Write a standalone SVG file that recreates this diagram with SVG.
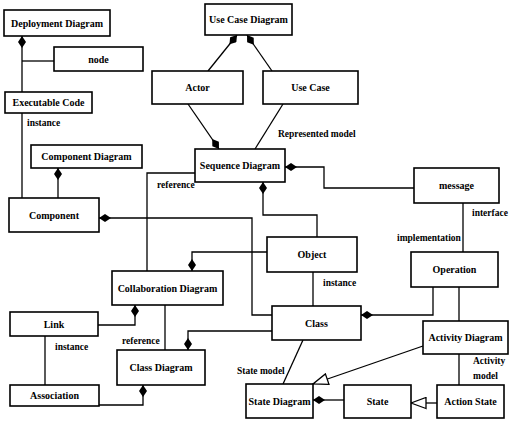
<svg xmlns="http://www.w3.org/2000/svg" width="509" height="421" viewBox="0 0 509 421">
<style>
.box{fill:#fff;stroke:#000;stroke-width:1.6}
.t{font-family:"Liberation Serif","Times New Roman",serif;font-weight:bold;font-size:10px;text-anchor:middle;fill:#000}
.l{font-family:"Liberation Serif","Times New Roman",serif;font-weight:bold;font-size:9.5px;fill:#000}
.c{fill:none;stroke:#000;stroke-width:1.3}
.d{marker-start:url(#dia)}
.g{marker-end:url(#tri)}
</style>
<defs>
<marker id="dia" viewBox="0 0 12 8" refX="0" refY="4" markerWidth="12" markerHeight="8" markerUnits="userSpaceOnUse" orient="auto">
<path d="M0,4 L6,0 L12,4 L6,8 Z" fill="#000"/>
</marker>
<marker id="tri" viewBox="0 0 17 13" refX="16" refY="6.5" markerWidth="17" markerHeight="13" markerUnits="userSpaceOnUse" orient="auto">
<path d="M1,1 L16,6.5 L1,12 Z" fill="#fff" stroke="#000" stroke-width="1.3"/>
</marker>
</defs>
<rect width="509" height="421" fill="#fff"/>
<g id="connectors">
<path class="c d" d="M22,36 V92"/>
<path class="c" d="M22,61 H54"/>
<path class="c" d="M22,113 V198"/>
<path class="c d" d="M58,168 V198"/>
<path class="c d" d="M99,218 H252 V315 H272"/>
<path class="c d" d="M237,35 L208,71"/>
<path class="c d" d="M247,35 L272,71"/>
<path class="c d" d="M219,149 L188,104"/>
<path class="c" d="M283,104 L255,149"/>
<path class="c d" d="M285,167 H324 V188 H414"/>
<path class="c d" d="M263,182 V215 H317 V237"/>
<path class="c" d="M147,271 V173 H195"/>
<path class="c d" d="M192,271 V252 H267"/>
<path class="c d" d="M135,305 V325 H98"/>
<path class="c" d="M165,305 V350"/>
<path class="c" d="M45,336 V385"/>
<path class="c d" d="M143,385 V405 H99"/>
<path class="c d" d="M188,350 V331 H272"/>
<path class="c" d="M313,272 V306"/>
<path class="c d" d="M361,315 H433 V287"/>
<path class="c" d="M463,203 V252"/>
<path class="c" d="M459,287 V321"/>
<path class="c" d="M303,340 L283,384"/>
<path class="c g" d="M423,346 L313,384"/>
<path class="c" d="M459,354 V385"/>
<path class="c g" d="M437,403 H411"/>
<path class="c d" d="M313,400 H344"/>
</g>
<g id="labels">
<text class="l" x="27" y="126">instance</text>
<text class="l" x="157" y="188">reference</text>
<text class="l" x="278" y="137">Represented model</text>
<text class="l" x="472" y="216">interface</text>
<text class="l" x="397" y="241">implementation</text>
<text class="l" x="323" y="286">instance</text>
<text class="l" x="122" y="344">reference</text>
<text class="l" x="55" y="350">instance</text>
<text class="l" x="237" y="374">State model</text>
<text class="l" x="473" y="364">Activity</text>
<text class="l" x="473" y="379">model</text>
</g>
<g id="deployment"><rect class="box" x="4" y="10" width="106" height="26"/><text class="t" x="57" y="26.5">Deployment Diagram</text></g>
<g id="node"><rect class="box" x="54" y="47" width="89" height="24"/><text class="t" x="98.5" y="62.5">node</text></g>
<g id="executable"><rect class="box" x="5" y="92" width="87" height="21"/><text class="t" x="48.5" y="106">Executable Code</text></g>
<g id="usecasediagram"><rect class="box" x="205" y="4" width="87" height="31"/><text class="t" x="248.5" y="23">Use Case Diagram</text></g>
<g id="actor"><rect class="box" x="152" y="71" width="91" height="33"/><text class="t" x="197.5" y="91">Actor</text></g>
<g id="usecase"><rect class="box" x="263" y="71" width="95" height="33"/><text class="t" x="310.5" y="91">Use Case</text></g>
<g id="sequence"><rect class="box" x="195" y="149" width="90" height="33"/><text class="t" x="240" y="169">Sequence Diagram</text></g>
<g id="message"><rect class="box" x="414" y="168" width="85" height="35"/><text class="t" x="456.5" y="189">message</text></g>
<g id="componentdiagram"><rect class="box" x="31" y="145" width="111" height="23"/><text class="t" x="86.5" y="160">Component Diagram</text></g>
<g id="component"><rect class="box" x="9" y="198" width="90" height="34"/><text class="t" x="54" y="218.5">Component</text></g>
<g id="object"><rect class="box" x="267" y="237" width="90" height="35"/><text class="t" x="312" y="258">Object</text></g>
<g id="operation"><rect class="box" x="411" y="252" width="87" height="35"/><text class="t" x="454.5" y="273">Operation</text></g>
<g id="collaboration"><rect class="box" x="112" y="271" width="111" height="34"/><text class="t" x="167.5" y="291.5">Collaboration Diagram</text></g>
<g id="class"><rect class="box" x="272" y="306" width="89" height="34"/><text class="t" x="316.5" y="326.5">Class</text></g>
<g id="link"><rect class="box" x="10" y="312" width="88" height="24"/><text class="t" x="54" y="327.5">Link</text></g>
<g id="classdiagram"><rect class="box" x="117" y="350" width="88" height="35"/><text class="t" x="161" y="371">Class Diagram</text></g>
<g id="activity"><rect class="box" x="423" y="321" width="85" height="33"/><text class="t" x="465.5" y="341">Activity Diagram</text></g>
<g id="association"><rect class="box" x="10" y="385" width="89" height="21"/><text class="t" x="54.5" y="399">Association</text></g>
<g id="statediagram"><rect class="box" x="246" y="384" width="67" height="34"/><text class="t" x="279.5" y="404.5">State Diagram</text></g>
<g id="state"><rect class="box" x="344" y="385" width="67" height="33"/><text class="t" x="377.5" y="405">State</text></g>
<g id="actionstate"><rect class="box" x="437" y="385" width="67" height="33"/><text class="t" x="470.5" y="405">Action State</text></g>
</svg>
